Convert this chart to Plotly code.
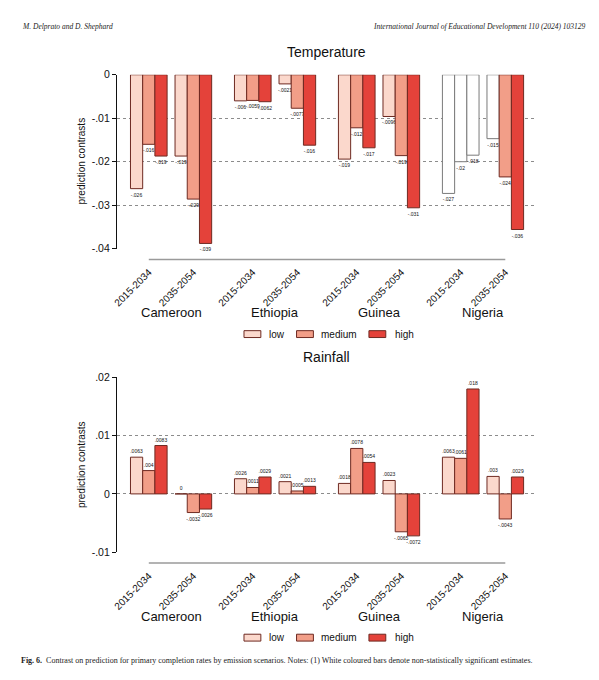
import plotly.graph_objects as go

W, H = 599, 680

countries = ["Cameroon", "Ethiopia", "Guinea", "Nigeria"]
periods = ["2015-2034", "2035-2054"]
scenarios = ["low", "medium", "high"]

# Temperature contrasts (order: Cameroon 15-34, Cameroon 35-54, Ethiopia ..., Nigeria 35-54)
temp_low = [-0.0262, -0.0187, -0.0060, -0.0021, -0.0194, -0.0096, -0.0273, -0.0147]
temp_medium = [-0.0160, -0.0286, -0.0059, -0.0077, -0.0122, -0.0186, -0.0200, -0.0235]
temp_high = [-0.0187, -0.0388, -0.0062, -0.0162, -0.0168, -0.0306, -0.0185, -0.0356]
# 1 = statistically significant, 0 = not (white bar)
temp_sig_low = [1, 1, 1, 1, 1, 1, 0, 0]
temp_sig_medium = [1, 1, 1, 1, 1, 1, 0, 1]
temp_sig_high = [1, 1, 1, 1, 1, 1, 0, 1]

# Rainfall contrasts
rain_low = [0.0063, 0.0, 0.0026, 0.0021, 0.0018, 0.0023, 0.0063, 0.0030]
rain_medium = [0.0040, -0.0032, 0.0011, 0.0005, 0.0078, -0.0065, 0.0061, -0.0043]
rain_high = [0.0083, -0.0026, 0.0029, 0.0013, 0.0054, -0.0072, 0.0180, 0.0029]
rain_sig_low = [1, 1, 1, 1, 1, 1, 1, 1]
rain_sig_medium = [1, 1, 1, 1, 1, 1, 1, 1]
rain_sig_high = [1, 1, 1, 1, 1, 1, 1, 1]

temp_ticks = [0, -0.01, -0.02, -0.03, -0.04]
temp_ticktext = ["0", "-.01", "-.02", "-.03", "-.04"]
rain_ticks = [0.02, 0.01, 0, -0.01]
rain_ticktext = [".02", ".01", "0", "-.01"]

fills = {"low": "#FBD8CC", "medium": "#F29E88", "high": "#E4423A"}
edge = "#6E2A22"
white_edge = "#7A7A7A"

COUNTRY_STEP = 2 + 1 / 3
xpos = []
xlabels = []
for i, c in enumerate(countries):
    for j, p in enumerate(periods):
        xpos.append(i * COUNTRY_STEP + j)
        xlabels.append(p)

BW = 0.274
offsets = {"low": -0.411, "medium": -0.137, "high": 0.137}


def fmt(v):
    s = f"{v:.2g}"
    s = s.replace("0.", ".", 1) if s.startswith("0.") else s.replace("-0.", "-.", 1)
    return s


def px_x(p):
    return p / W


def px_y(p):
    return 1 - p / H


fig = go.Figure()

panels = [
    ("x", "y", {"low": temp_low, "medium": temp_medium, "high": temp_high},
     {"low": temp_sig_low, "medium": temp_sig_medium, "high": temp_sig_high}),
    ("x2", "y2", {"low": rain_low, "medium": rain_medium, "high": rain_high},
     {"low": rain_sig_low, "medium": rain_sig_medium, "high": rain_sig_high}),
]

for xa, ya, vals, sigs in panels:
    for s in scenarios:
        v = vals[s]
        sg = sigs[s]
        fig.add_trace(go.Bar(
            x=xpos, y=v, xaxis=xa, yaxis=ya,
            width=BW, offset=offsets[s],
            marker=dict(color=[fills[s] if g else "white" for g in sg],
                        line=dict(color=[edge if g else white_edge for g in sg], width=1)),
            text=[fmt(t) for t in v], textposition="outside",
            textfont=dict(size=5, color="#111", family="Liberation Sans"),
            constraintext="none", cliponaxis=False,
            showlegend=False, name=s,
        ))

xdom = [px_x(113), px_x(535)]
xr = [-(145 - 113) / 44.94, 8 + (535 - 504.5) / 44.94]

axis_common = dict(
    range=xr, domain=xdom, tickmode="array", tickvals=xpos, ticktext=xlabels,
    tickangle=-45, showgrid=False, zeroline=False, showline=False,
    ticks="", ticklabelstandoff=15,
    tickfont=dict(size=10, family="Liberation Sans", color="#111"),
)
yaxis_common = dict(
    showgrid=True, gridcolor="#8c8c8c", griddash="dot", gridwidth=1,
    zeroline=False, showline=True, linecolor="#111", linewidth=1.3,
    ticks="outside", ticklen=4, tickcolor="#111", tickwidth=1,
    tickfont=dict(size=10.5, family="Liberation Sans", color="#111"),
    tickmode="array",
)

fig.update_layout(
    width=W, height=H, margin=dict(l=0, r=0, t=0, b=0),
    paper_bgcolor="white", plot_bgcolor="white", barmode="overlay",
    xaxis=dict(anchor="y", **axis_common),
    xaxis2=dict(anchor="y2", **axis_common),
    yaxis=dict(anchor="x", domain=[px_y(247), px_y(70)], range=[-0.04, 0],
               tickvals=temp_ticks, ticktext=temp_ticktext, **yaxis_common),
    yaxis2=dict(anchor="x2", domain=[px_y(556), px_y(378)], range=[-0.01, 0.02],
                tickvals=rain_ticks, ticktext=rain_ticktext, **yaxis_common),
)

shapes = []
annotations = []

# x baselines (Stata style, from first to last category)
for xref, ybase in (("x", 258), ("x2", 567)):
    shapes.append(dict(type="line", xref=xref, yref="paper", x0=xpos[0], x1=xpos[-1],
                       y0=px_y(ybase), y1=px_y(ybase), line=dict(color="#9a9a9a", width=1.5)))

# panel titles
for t, yy in (("Temperature", 47), ("Rainfall", 357)):
    annotations.append(dict(text=t, xref="paper", yref="paper", x=px_x(324), y=px_y(yy),
                            showarrow=False, font=dict(size=14, family="Liberation Sans", color="#111"),
                            xanchor="center", yanchor="middle"))

# y titles
for yy in (158, 467):
    annotations.append(dict(text="prediction contrasts", xref="paper", yref="paper",
                            x=px_x(77), y=px_y(yy), textangle=-90, showarrow=False,
                            font=dict(size=10, family="Liberation Sans", color="#111"),
                            xanchor="center", yanchor="middle"))

# country labels
for xref, yy in (("x", 312), ("x2", 621)):
    for i, c in enumerate(countries):
        annotations.append(dict(text=c, xref=xref, yref="paper",
                                x=i * COUNTRY_STEP + 0.5, y=px_y(yy), showarrow=False,
                                font=dict(size=13, family="Liberation Sans", color="#111"),
                                xanchor="center", yanchor="middle"))

# legends
leg_x = {"low": (241, 264), "medium": (294, 317), "high": (367, 391)}
for yy in (334, 643):
    for s in scenarios:
        sx, tx = leg_x[s]
        shapes.append(dict(type="rect", xref="paper", yref="paper",
                           x0=px_x(sx), x1=px_x(sx + 17), y0=px_y(yy + 3.5), y1=px_y(yy - 3.5),
                           fillcolor=fills[s], line=dict(color=edge, width=1)))
        annotations.append(dict(text=s, xref="paper", yref="paper", x=px_x(tx), y=px_y(yy),
                                showarrow=False, xanchor="left", yanchor="middle",
                                font=dict(size=10, family="Liberation Sans", color="#111")))

# page header and caption
annotations.append(dict(text="<i>M. Delprato and D. Shephard</i>", xref="paper", yref="paper",
                        x=px_x(15), y=px_y(21), showarrow=False, xanchor="left", yanchor="middle",
                        font=dict(size=7.5, family="Liberation Serif", color="#222")))
annotations.append(dict(text="<i>International Journal of Educational Development 110 (2024) 103129</i>",
                        xref="paper", yref="paper", x=px_x(588), y=px_y(21), showarrow=False,
                        xanchor="right", yanchor="middle",
                        font=dict(size=7.5, family="Liberation Serif", color="#222")))
annotations.append(dict(text="<b>Fig. 6.</b>  Contrast on prediction for primary completion rates by emission scenarios. "
                             "Notes: (1) White coloured bars denote non-statistically significant estimates.",
                        xref="paper", yref="paper", x=px_x(14), y=px_y(666), showarrow=False,
                        xanchor="left", yanchor="middle",
                        font=dict(size=8, family="Liberation Serif", color="#222")))

fig.update_layout(shapes=shapes, annotations=annotations)
fig.write_html("out.html", config={"displayModeBar": False},
               post_script="document.body.style.margin='0';document.body.style.overflow='hidden';")
